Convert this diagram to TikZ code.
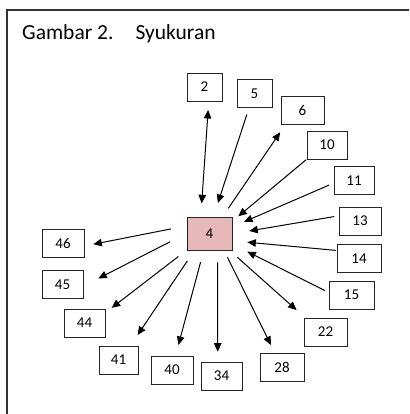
\documentclass[tikz,border=0pt]{standalone}
\usepackage{fontspec}
\setmainfont{Carlito}
\usetikzlibrary{arrows.meta}

\definecolor{rosefill}{HTML}{E6B8B7}

\begin{document}
\begin{tikzpicture}[x=1pt,y=-1pt,
    numbox/.style={draw=black!85, line width=0.9pt, minimum width=41pt,
        minimum height=28pt, inner sep=0pt, outer sep=0pt,
        font=\fontsize{15}{17}\selectfont},
    centerbox/.style={numbox, fill=rosefill, minimum width=45pt, minimum height=33pt},
    arr/.style={line width=1pt, -{Triangle[length=8.5pt,width=7.5pt]}},
    twoarr/.style={line width=1pt, {Triangle[length=8.5pt,width=7.5pt]}-{Triangle[length=8.5pt,width=7.5pt]}}]
    \useasboundingbox (0,0) rectangle (409,414);

    % Frame (cut off at the right and bottom)
    \begin{scope}
        \clip (0,0) rectangle (409,414);
        \draw[line width=1.5pt, black!80] (7,440) -- (7,10) -- (440,10);
    \end{scope}

    % Title
    \node[anchor=base west, inner sep=0pt, font=\fontsize{21.5}{24}\selectfont]
        (title) at (22,40) {Gambar 2.\hspace{22pt}Syukuran};

    % Center
    \node[centerbox] (c4) at (209.5,233.5) {4};

    % Surrounding boxes
    \node[numbox, minimum width=35pt] (n2) at (204.5,87) {2};
    \node[numbox, minimum width=35pt] (n5) at (254.5,93.5) {5};
    \node[numbox, minimum width=43pt] (n6) at (302.5,110) {6};
    \node[numbox, minimum width=40pt] (n10) at (327,145) {10};
    \node[numbox, minimum width=40pt] (n11) at (354,180.5) {11};
    \node[numbox, minimum width=42pt] (n13) at (360,221) {13};
    \node[numbox, minimum width=44pt] (n14) at (359,258.5) {14};
    \node[numbox, minimum width=45pt] (n15) at (351.5,295) {15};
    \node[numbox, minimum width=43pt] (n22) at (325.5,332) {22};
    \node[numbox, minimum width=44pt] (n28) at (282,367) {28};
    \node[numbox] (n34) at (221.5,376) {34};
    \node[numbox, minimum width=42pt] (n40) at (172,370) {40};
    \node[numbox, minimum width=39pt] (n41) at (118.5,360) {41};
    \node[numbox] (n44) at (84.5,323) {44};
    \node[numbox] (n45) at (62.5,284.5) {45};
    \node[numbox, minimum width=42pt] (n46) at (63,243.5) {46};

    % Arrows into 4
    \draw[twoarr, shorten <=13.7pt, shorten >=9pt] (c4.118) -- (n2.287);
    \draw[arr, shorten <=7.4pt, shorten >=14.7pt] (n5.249) -- (c4.77);
    \draw[arr, shorten <=1pt, shorten >=8.2pt] (n10.215) -- (c4.28);
    \draw[arr, shorten <=5.4pt, shorten >=13.1pt] (n11.187) -- (c4.16);
    \draw[arr, shorten <=4.8pt, shorten >=17.5pt] (n13.166) -- (c4.359);
    \draw[arr, shorten <=1pt, shorten >=15.4pt] (n14.160) -- (c4.342);
    \draw[arr, shorten <=4.5pt, shorten >=17.1pt] (n15.174) -- (c4.335);

    % Arrows out of 4
    \draw[arr, shorten <=10.5pt, shorten >=10pt] (c4.52) -- (n6.220);
    \draw[arr, shorten <=11pt, shorten >=12pt] (c4.320) -- (n22.145);
    \draw[arr, shorten <=8.1pt, shorten >=8.9pt] (c4.311) -- (n28.117);
    \draw[arr, shorten <=12.3pt, shorten >=10.3pt] (c4.296) -- (n34.105);
    \draw[arr, shorten <=12.4pt, shorten >=11.4pt] (c4.251) -- (n40.76);
    \draw[arr, shorten <=13.2pt, shorten >=13.2pt] (c4.228) -- (n41.50);
    \draw[arr, shorten <=10.9pt, shorten >=8.4pt] (c4.216) -- (n44.26);
    \draw[arr, shorten <=19.1pt, shorten >=17.2pt] (c4.179) -- (n45.355);
    \draw[arr, shorten <=16.3pt, shorten >=9.5pt] (c4.161) -- (n46.353);
\end{tikzpicture}
\end{document}
